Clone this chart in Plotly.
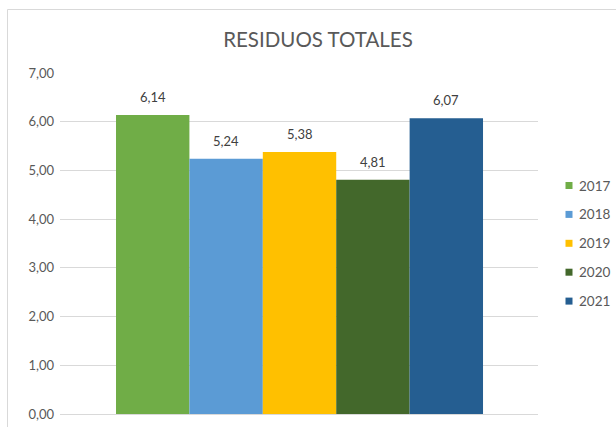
import plotly.graph_objects as go

# Annual totals
years = ["2017", "2018", "2019", "2020", "2021"]
values = [6.14, 5.24, 5.38, 4.81, 6.07]
colors = ["#70AD47", "#5B9BD5", "#FFC000", "#43682B", "#255E91"]
y_ticks = [0, 1, 2, 3, 4, 5, 6, 7]

FONT = "Lato, 'Open Sans', sans-serif"

W, H = 616, 427
L, R, T, B = 60, 78, 73, 13
pw, ph = W - L - R, H - T - B


def fmt(v):
    return f"{v:.2f}".replace(".", ",")


def px_x(p):
    return (p - L) / pw


def px_y(p):
    return (H - B - p) / ph


fig = go.Figure()
shapes = []
for i, (yr, v, c) in enumerate(zip(years, values, colors)):
    fig.add_trace(go.Bar(
        x=[i], y=[v], width=1, name=yr, showlegend=False,
        marker=dict(color=c, line=dict(width=0)),
        hovertemplate=f"{yr}: %{{y:.2f}}<extra></extra>",
    ))
    fig.add_annotation(x=i, y=v, text=fmt(v), showarrow=False,
                       yanchor="bottom", yshift=8,
                       font=dict(size=13, color="#404040", family=FONT))
    # legend entry: small square swatch + year label
    ly = 185.5 + i * 28.9
    shapes.append(dict(type="rect", xref="paper", yref="paper",
                       x0=px_x(565.5), x1=px_x(572.5),
                       y0=px_y(ly + 3.5), y1=px_y(ly - 3.5),
                       fillcolor=c, line=dict(width=0)))
    fig.add_annotation(xref="paper", yref="paper", x=px_x(577), y=px_y(ly),
                       xanchor="left", yanchor="middle", text=yr, showarrow=False,
                       font=dict(size=13.5, color="#595959", family=FONT))

# outer chart frame
shapes.append(dict(type="rect", xref="paper", yref="paper",
                   x0=px_x(7.5), x1=px_x(W + 10),
                   y0=px_y(H + 10), y1=px_y(9.5),
                   line=dict(color="#D9D9D9", width=1), fillcolor="rgba(0,0,0,0)",
                   layer="below"))

fig.update_layout(
    width=W, height=H,
    margin=dict(l=L, r=R, t=T, b=B, autoexpand=False),
    paper_bgcolor="white", plot_bgcolor="white",
    barmode="overlay",
    separators=",.",
    showlegend=False,
    font=dict(family=FONT, color="#595959"),
    title=dict(text="RESIDUOS TOTALES", x=318 / W, xanchor="center",
               y=1 - 40 / H, yanchor="middle",
               font=dict(size=20.5, color="#595959", family=FONT)),
    xaxis=dict(range=[-1.263, 5.249], showticklabels=False, showgrid=False,
               zeroline=False, showline=False, fixedrange=True),
    yaxis=dict(range=[0, 7], tickvals=y_ticks, tickformat=".2f",
               showgrid=True, gridcolor="#D9D9D9", gridwidth=1,
               zeroline=True, zerolinecolor="#D9D9D9", zerolinewidth=1,
               tickfont=dict(size=13, color="#595959", family=FONT),
               ticklabelstandoff=5, showline=False, fixedrange=True),
    shapes=shapes,
)

fig.write_html("out.html")
